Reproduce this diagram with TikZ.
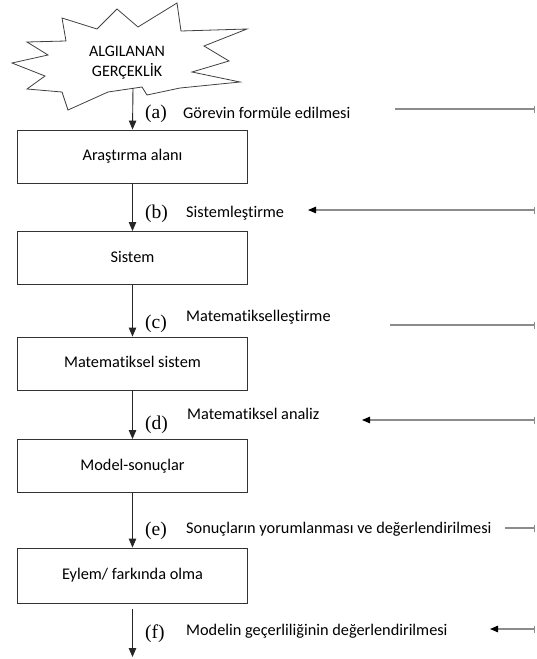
\documentclass[tikz,border=0pt]{standalone}
\usepackage{fontspec}
\setmainfont{Carlito}[Ligatures=NoCommon]
\newfontfamily\lblfont{Liberation Serif}
\usetikzlibrary{arrows.meta}

\begin{document}
\begin{tikzpicture}[x=1pt,y=-1pt,
  txt/.style={font=\fontsize{16.3}{19}\selectfont, inner sep=0pt, anchor=base west},
  lbl/.style={font=\lblfont\fontsize{19.5}{22}\selectfont, inner sep=0pt, anchor=base west},
  stepbox/.style={draw=black!80, line width=0.9pt, minimum width=230pt, minimum height=53pt,
    inner sep=0pt, font=\fontsize{16.3}{19}\selectfont, text height=11pt, text depth=3pt},
  flow/.style={draw=black!85, line width=0.9pt, -{Triangle[length=9pt,width=7.5pt]}},
  side/.style={draw=black!45, line width=1.1pt},
  sideend/.style={side, -{Bar[width=7pt]}},
  sidearrow/.style={side, {Bar[width=7pt]}-{Triangle[length=8pt,width=6.5pt,color=black]}},
  starline/.style={draw=black!75, line width=0.8pt, line join=miter}
]
\useasboundingbox (0,0) rectangle (536,659);

% starburst outline
\draw[starline] (12,63) -- (48,55) -- (27,42) -- (66,41) -- (62,18) -- (97,29)
  -- (117,9) -- (138,27) -- (177,3) -- (181,31) -- (247,29) -- (204,46)
  -- (229,61) -- (192,72) -- (240,82) -- (180,88) -- (147,95) -- (142,87)
  -- (108,92) -- (68,110) -- (62,92) -- (27,89) -- (45,76) -- cycle;
\node[align=center, inner sep=0pt, font=\fontsize{16}{20}\selectfont] (star) at (127,63)
  {ALGILANAN\\GERÇEKLİK};
\coordinate (sa) at (133,88);

% process boxes
\node[stepbox] (b1) at (132.5,156.5) {Araştırma alanı};
\node[stepbox] (b2) at (132.5,258)   {Sistem};
\node[stepbox] (b3) at (132.5,363.5) {Matematiksel sistem};
\node[stepbox] (b4) at (132.5,466)   {Model-sonuçlar};
\node[stepbox, minimum height=55pt] (b5) at (132.5,575.5) {Eylem/ farkında olma};
\coordinate (fs) at (132.5,609);
\coordinate (fe) at (132.5,657);

% main flow
\draw[flow] (sa) -- (b1.north);
\draw[flow] (b1.south) -- (b2.north);
\draw[flow] (b2.south) -- (b3.north);
\draw[flow] (b3.south) -- (b4.north);
\draw[flow] (b4.south) -- (b5.north);
\draw[flow] (fs) -- (fe);

% step labels
\node[lbl] (la) at (145,118) {(a)};
\node[lbl] (lb) at (145,218) {(b)};
\node[lbl] (lc) at (145,328) {(c)};
\node[lbl] (ld) at (145,429) {(d)};
\node[lbl] (le) at (145,535) {(e)};
\node[lbl] (lf) at (145,638) {(f)};

\node[txt] (ta) at (183,118) {Görevin formüle edilmesi};
\node[txt] (tb) at (186,217) {Sistemleştirme};
\node[txt] (tc) at (186,321) {Matematikselleştirme};
\node[txt] (td) at (187,419) {Matematiksel analiz};
\node[txt] (te) at (186,533) {Sonuçların yorumlanması ve değerlendirilmesi};
\node[txt] (tf) at (186,635) {Modelin geçerliliğinin değerlendirilmesi};

% side connectors
\coordinate (pa) at (395,109);  \coordinate (qa) at (535,109);
\coordinate (pb) at (308,210);  \coordinate (qb) at (535,210);
\coordinate (pc) at (390,325);  \coordinate (qc) at (535,325);
\coordinate (pd) at (362,420);  \coordinate (qd) at (535,420);
\coordinate (pe) at (505,528);  \coordinate (qe) at (535,528);
\coordinate (pf) at (490,629);  \coordinate (qf) at (535,629);

\draw[sideend] (pa) -- (qa);
\draw[sidearrow] (qb) -- (pb);
\draw[sideend] (pc) -- (qc);
\draw[sidearrow] (qd) -- (pd);
\draw[sideend] (pe) -- (qe);
\draw[sidearrow] (qf) -- (pf);
\end{tikzpicture}
\end{document}
